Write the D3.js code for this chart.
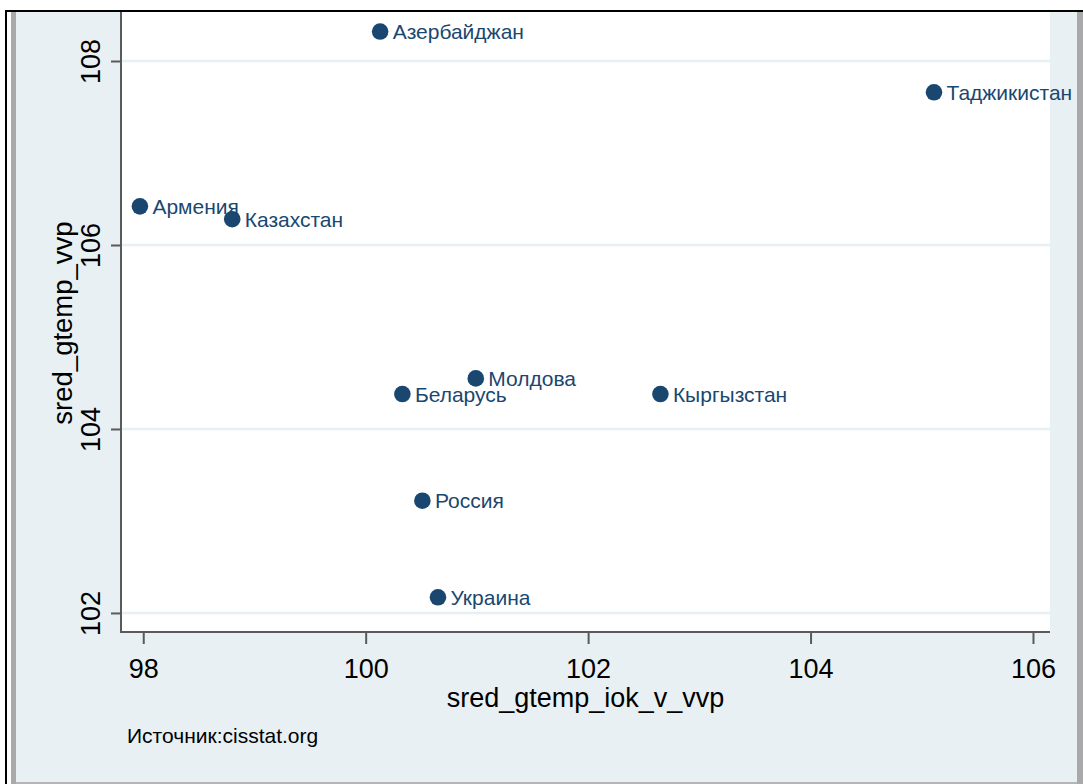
<!DOCTYPE html>
<html>
<head>
<meta charset="utf-8">
<script src="https://cdn.jsdelivr.net/npm/d3@7"></script>
<style>
  html, body { margin: 0; padding: 0; background: #ffffff; }
  svg { display: block; }
  text { font-family: "Liberation Sans", Arial, sans-serif; }
</style>
</head>
<body>
<svg id="chart" width="1083" height="784"></svg>
<script>
// ---- data ----
const countries = ["Азербайджан", "Таджикистан", "Армения", "Казахстан", "Молдова", "Беларусь", "Кыргызстан", "Россия", "Украина"];
const xValues = [100.13, 105.11, 97.97, 98.80, 100.99, 100.33, 102.65, 100.51, 100.65];
const yValues = [108.32, 107.66, 106.42, 106.28, 104.55, 104.38, 104.38, 103.22, 102.17];
const xTicks = [98, 100, 102, 104, 106];
const yTicks = [102, 104, 106, 108];
const xTitle = "sred_gtemp_iok_v_vvp";
const yTitle = "sred_gtemp_vvp";
const note = "Источник:cisstat.org";

// ---- layout ----
const W = 1083, H = 784;
const plot = { left: 121, right: 1050, top: 14, bottom: 632 };
const navy = "#1a476f";
const axisGray = "#5a5a5a";

const svg = d3.select("#chart");

// page frame
svg.append("rect").attr("x", 0).attr("y", 0).attr("width", W).attr("height", H).attr("fill", "#ffffff");
svg.append("rect").attr("x", 16).attr("y", 12).attr("width", 1061).attr("height", 770).attr("fill", "#e8f0f3");
// gray bands
svg.append("rect").attr("x", 11).attr("y", 12).attr("width", 5).attr("height", H - 12).attr("fill", "#a9a9a9");
svg.append("rect").attr("x", 1077).attr("y", 12).attr("width", 6).attr("height", H - 12).attr("fill", "#a9a9a9");
svg.append("rect").attr("x", 16).attr("y", 782).attr("width", 1061).attr("height", 2).attr("fill", "#b5b5b5");
// black outer lines
svg.append("rect").attr("x", 5).attr("y", 10).attr("width", W - 5).attr("height", 2).attr("fill", "#000");
svg.append("rect").attr("x", 5).attr("y", 10).attr("width", 2).attr("height", H - 10).attr("fill", "#000");

// plot region
svg.append("rect")
  .attr("x", plot.left).attr("y", 12)
  .attr("width", plot.right - plot.left).attr("height", plot.bottom - 12)
  .attr("fill", "#ffffff");

const x = d3.scaleLinear().domain([97.80, 106.153]).range([plot.left, plot.right]);
const y = d3.scaleLinear().domain([101.793, 108.511]).range([plot.bottom, plot.top]);

// gridlines
svg.append("g").selectAll("line").data(yTicks).join("line")
  .attr("x1", plot.left).attr("x2", plot.right)
  .attr("y1", d => y(d)).attr("y2", d => y(d))
  .attr("stroke", "#e6eff2").attr("stroke-width", 2.5);

// x axis
const gx = svg.append("g").attr("transform", `translate(0,${plot.bottom})`)
  .call(d3.axisBottom(x).tickValues(xTicks).tickFormat(d3.format("d")).tickSize(12).tickSizeOuter(0));
gx.select(".domain").remove();
gx.selectAll(".tick line").attr("stroke", axisGray).attr("stroke-width", 2);
gx.selectAll(".tick text").attr("y", 46).attr("dy", 0)
  .attr("fill", "#000").attr("font-size", 27).attr("font-family", "Liberation Sans, Arial, sans-serif");
svg.append("line").attr("x1", plot.left).attr("x2", plot.right)
  .attr("y1", plot.bottom).attr("y2", plot.bottom)
  .attr("stroke", axisGray).attr("stroke-width", 2);

// y axis
const gy = svg.append("g").attr("transform", `translate(${plot.left},0)`)
  .call(d3.axisLeft(y).tickValues(yTicks).tickFormat(d3.format("d")).tickSize(10).tickSizeOuter(0));
gy.select(".domain").remove();
gy.selectAll(".tick line").attr("stroke", axisGray).attr("stroke-width", 2);
gy.selectAll(".tick text")
  .attr("transform", "rotate(-90)")
  .attr("x", 0).attr("y", -21).attr("dy", 0)
  .attr("text-anchor", "middle")
  .attr("fill", "#000").attr("font-size", 27).attr("font-family", "Liberation Sans, Arial, sans-serif");
svg.append("line").attr("x1", plot.left).attr("x2", plot.left)
  .attr("y1", 12).attr("y2", plot.bottom + 1)
  .attr("stroke", axisGray).attr("stroke-width", 2);

// axis titles
svg.append("text")
  .attr("x", (plot.left + plot.right) / 2).attr("y", 707)
  .attr("text-anchor", "middle").attr("font-size", 27).attr("fill", "#000")
  .text(xTitle);
svg.append("text")
  .attr("transform", `translate(72,${(plot.top + plot.bottom) / 2}) rotate(-90)`)
  .attr("text-anchor", "middle").attr("font-size", 27.5).attr("fill", "#000")
  .text(yTitle);

// note
svg.append("text")
  .attr("x", 127).attr("y", 743)
  .attr("font-size", 21).attr("fill", "#000")
  .text(note);

// points
const pts = countries.map((c, i) => ({ name: c, x: xValues[i], y: yValues[i] }));
const gp = svg.append("g");
gp.selectAll("text").data(pts).join("text")
  .attr("x", d => x(d.x) + 12.5)
  .attr("y", d => y(d.y))
  .attr("dy", "0.36em")
  .attr("font-size", 21)
  .attr("fill", navy)
  .text(d => d.name);
gp.selectAll("circle").data(pts).join("circle")
  .attr("cx", d => x(d.x))
  .attr("cy", d => y(d.y))
  .attr("r", 8.3)
  .attr("fill", navy);
</script>
</body>
</html>
